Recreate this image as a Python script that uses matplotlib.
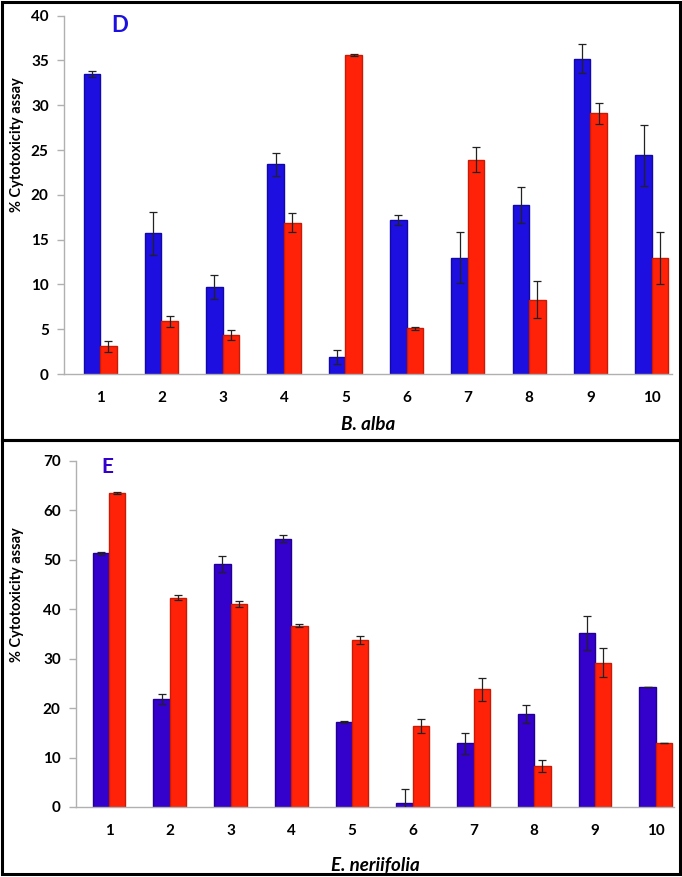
import matplotlib
matplotlib.use("Agg")
import matplotlib.pyplot as plt
import numpy as np
from matplotlib.patches import Rectangle

plt.rcParams['font.family'] = ['Lato', 'DejaVu Sans']

groups = [1, 2, 3, 4, 5, 6, 7, 8, 9, 10]

# Panel D: B. alba
d_blue = [33.5, 15.7, 9.7, 23.4, 1.9, 17.2, 13.0, 18.9, 35.2, 24.4]
d_blue_err = [0.35, 2.4, 1.3, 1.3, 0.75, 0.6, 2.8, 2.0, 1.6, 3.4]
d_red = [3.1, 5.9, 4.4, 16.9, 35.6, 5.1, 23.9, 8.3, 29.1, 13.0]
d_red_err = [0.6, 0.6, 0.55, 1.1, 0.1, 0.15, 1.4, 2.1, 1.2, 2.9]

# Panel E: E. neriifolia
e_blue = [51.3, 21.9, 49.2, 54.3, 17.2, 0.9, 12.9, 18.8, 35.2, 24.3]
e_blue_err = [0.3, 1.0, 1.6, 0.7, 0.3, 2.8, 2.1, 1.8, 3.5, 0.0]
e_red = [63.5, 42.3, 41.1, 36.7, 33.7, 16.4, 23.8, 8.3, 29.2, 13.0]
e_red_err = [0.2, 0.5, 0.6, 0.3, 0.8, 1.5, 2.3, 1.3, 2.9, 0.0]

W, H = 682, 877
fig = plt.figure(figsize=(W / 100, H / 100), dpi=100)

def fx(px):
    return px / W

def fy(py):
    return 1 - py / H

def panel(ax, blue, blue_err, red, red_err, blue_col, blue_edge, ymax, step,
          xlim, letter, xlabel, letter_pos, letter_size):
    x = np.array(groups, dtype=float)
    w = 0.27
    ax.bar(x - w / 2, blue, width=w, color=blue_col, edgecolor=blue_edge,
           linewidth=1.0, zorder=2)
    ax.bar(x + w / 2, red, width=w, color='#ff2208', edgecolor='#c81a05',
           linewidth=1.0, zorder=2)
    ax.errorbar(x - w / 2, blue, yerr=blue_err, fmt='none', ecolor='#222222',
                elinewidth=0.9, capsize=3, capthick=0.9, zorder=3)
    ax.errorbar(x + w / 2, red, yerr=red_err, fmt='none', ecolor='#222222',
                elinewidth=0.9, capsize=3, capthick=0.9, zorder=3)
    ax.set_ylim(0, ymax)
    ax.set_xlim(*xlim)
    ax.set_yticks(np.arange(0, ymax + 1, step))
    ax.set_xticks(x)
    ax.set_xticklabels([str(g) for g in groups])
    for s in ['top', 'right']:
        ax.spines[s].set_visible(False)
    for s in ['left', 'bottom']:
        ax.spines[s].set_color('#b0b0b0')
        ax.spines[s].set_linewidth(1.0)
    ax.tick_params(axis='y', colors='#b0b0b0', length=5, width=1,
                   labelcolor='black', labelsize=11, pad=6)
    ax.tick_params(axis='x', length=0, labelcolor='black', labelsize=11, pad=12)
    for lab in ax.get_yticklabels() + ax.get_xticklabels():
        lab.set_fontweight('bold')
    ax.set_xlabel(xlabel, fontsize=13.5, fontweight='bold', fontstyle='italic',
                  labelpad=8)
    ax.set_ylabel('% Cytotoxicity assay', fontsize=10.5, fontweight='bold')
    fig.text(letter_pos[0], letter_pos[1], letter, color=blue_col,
             fontsize=letter_size, fontweight='bold', ha='center', va='center')

# Top panel (D)
ax1 = fig.add_axes([fx(64), fy(374), fx(672 - 64), fy(15.7) - fy(374)])
panel(ax1, d_blue, d_blue_err, d_red, d_red_err, '#1c0fdf', '#1208a8', 40, 5,
      (0.41, 10.33), 'D', 'B. alba', (fx(120), fy(25)), 16)
ax1.yaxis.set_label_coords(-0.066, 0.64)

# Bottom panel (E)
ax2 = fig.add_axes([fx(76), fy(807), fx(674 - 76), fy(461) - fy(807)])
panel(ax2, e_blue, e_blue_err, e_red, e_red_err, '#3300cc', '#22008f', 70, 10,
      (0.456, 10.3), 'E', 'E. neriifolia', (fx(107), fy(467)), 15)
ax2.xaxis.set_label_coords(0.5, -0.145)
ax2.yaxis.set_label_coords(-0.087, 0.615)

# Panel frames
fig.patches.append(Rectangle((fx(2), fy(440)), fx(678), fy(2) - fy(440),
                             transform=fig.transFigure, fill=False,
                             edgecolor='black', linewidth=2.2))
fig.patches.append(Rectangle((fx(2), fy(874)), fx(678), fy(440) - fy(874),
                             transform=fig.transFigure, fill=False,
                             edgecolor='black', linewidth=2.2))

fig.savefig('out.png', dpi=100)
